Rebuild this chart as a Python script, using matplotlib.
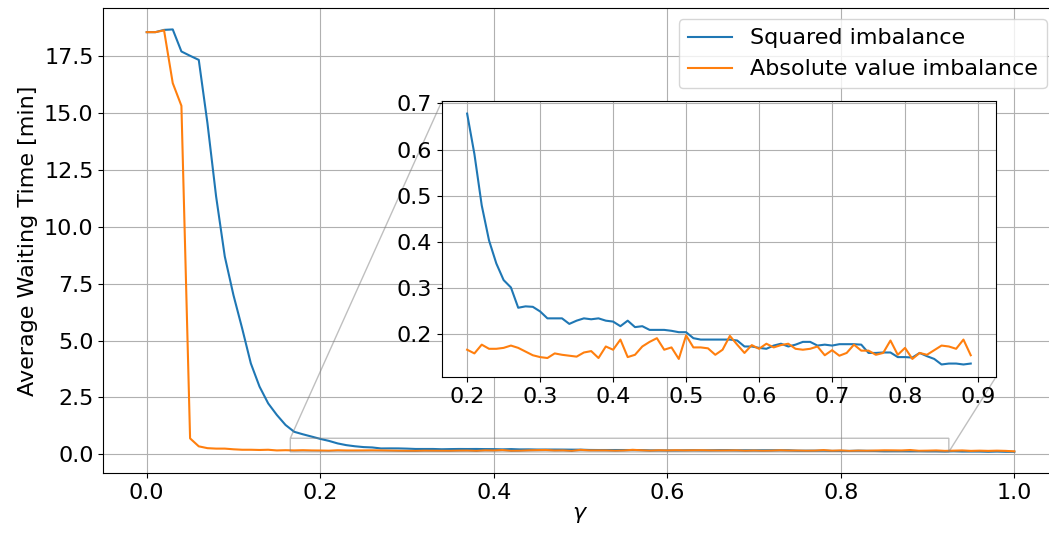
import numpy as np
import matplotlib
matplotlib.use('Agg')
import matplotlib.pyplot as plt

# gamma sweep 0.00 .. 1.00, step 0.01
gamma = np.round(np.arange(0, 101) * 0.01, 2)

# average waiting time [min], squared imbalance objective
wait_squared = [
    18.57, 18.57, 18.67, 18.69, 17.72, 17.53, 17.35, 14.57, 11.34, 8.70,
    7.00, 5.54, 4.00, 2.98, 2.24, 1.73, 1.29, 0.99, 0.88, 0.78,
    0.678, 0.590, 0.479, 0.403, 0.353, 0.317, 0.301, 0.257, 0.260, 0.259,
    0.249, 0.234, 0.234, 0.234, 0.222, 0.229, 0.234, 0.232, 0.234, 0.229,
    0.227, 0.217, 0.229, 0.215, 0.217, 0.209, 0.209, 0.209, 0.207, 0.204,
    0.204, 0.191, 0.188, 0.188, 0.188, 0.188, 0.188, 0.186, 0.173, 0.173,
    0.170, 0.168, 0.175, 0.179, 0.173, 0.177, 0.183, 0.183, 0.175, 0.177,
    0.175, 0.178, 0.178, 0.178, 0.177, 0.159, 0.159, 0.160, 0.160, 0.150,
    0.150, 0.149, 0.159, 0.152, 0.146, 0.134, 0.136, 0.136, 0.134, 0.136,
    0.13, 0.13, 0.12, 0.13, 0.12, 0.12, 0.12, 0.11, 0.12, 0.11, 0.11,
]

# average waiting time [min], absolute value imbalance objective
wait_absolute = [
    18.57, 18.57, 18.65, 16.33, 15.33, 0.70, 0.35, 0.27, 0.25, 0.25,
    0.22, 0.20, 0.20, 0.19, 0.20, 0.17, 0.18, 0.17, 0.18, 0.17,
    0.166, 0.158, 0.177, 0.168, 0.168, 0.170, 0.175, 0.170, 0.162, 0.154,
    0.150, 0.148, 0.158, 0.155, 0.153, 0.151, 0.160, 0.163, 0.148, 0.173,
    0.166, 0.188, 0.150, 0.155, 0.173, 0.183, 0.191, 0.166, 0.171, 0.146,
    0.197, 0.171, 0.171, 0.169, 0.155, 0.166, 0.196, 0.177, 0.159, 0.176,
    0.168, 0.179, 0.171, 0.176, 0.179, 0.168, 0.166, 0.168, 0.173, 0.154,
    0.165, 0.153, 0.159, 0.177, 0.164, 0.164, 0.155, 0.159, 0.186, 0.155,
    0.170, 0.146, 0.159, 0.155, 0.165, 0.175, 0.173, 0.168, 0.188, 0.154,
    0.16, 0.17, 0.15, 0.16, 0.17, 0.15, 0.16, 0.15, 0.16, 0.15, 0.13,
]

labels = ['Squared imbalance', 'Absolute value imbalance']

# zoomed range shown in the inset
zoom_lo, zoom_hi = 20, 90

plt.rcParams['font.size'] = 16

fig = plt.figure(figsize=(10.49, 5.36), dpi=100)
ax = fig.add_axes([0.0985, 0.1177, 0.9098, 0.8668])
ax.plot(gamma, wait_squared, label=labels[0])
ax.plot(gamma, wait_absolute, label=labels[1])
ax.grid(True)
ax.set_xlabel(r'$\gamma$', labelpad=2)
ax.set_ylabel('Average Waiting Time [min]')
ax.legend(loc='upper right')

axins = fig.add_axes([0.4213, 0.2966, 0.5281, 0.5149])
axins.plot(gamma[zoom_lo:zoom_hi], wait_squared[zoom_lo:zoom_hi])
axins.plot(gamma[zoom_lo:zoom_hi], wait_absolute[zoom_lo:zoom_hi])
axins.grid(True)
ax.indicate_inset_zoom(axins)

fig.savefig('out.png', dpi=100)
